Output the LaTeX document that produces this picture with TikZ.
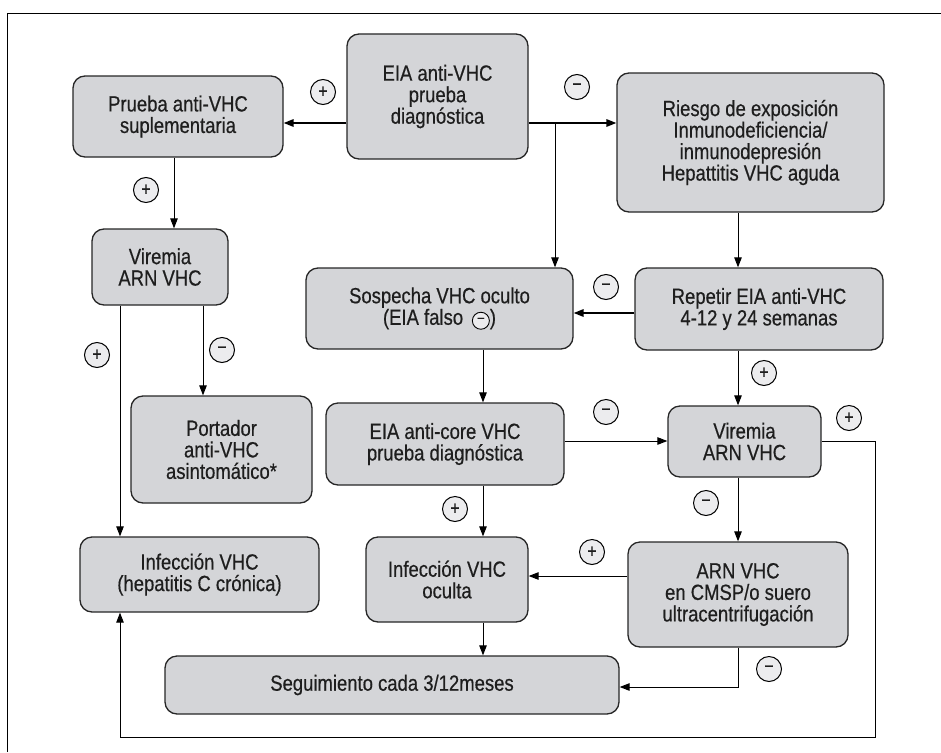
\documentclass[tikz,border=0pt]{standalone}
\usepackage{fontspec}
\setmainfont{Liberation Sans}
\newfontfamily\nf[FakeStretch=0.84,FakeBold=0.5]{Liberation Sans}
\usetikzlibrary{arrows.meta}
\definecolor{boxfill}{RGB}{212,213,216}
\definecolor{txt}{RGB}{30,30,30}
\definecolor{circfill}{RGB}{236,236,238}
\newcommand\incirc{\tikz[x=1pt,y=1pt,baseline={([yshift=-4pt]ic.center)}]\node[draw=black,line width=0.9pt,fill=circfill,circle,inner sep=0pt,minimum size=17pt,text=txt,font=\nf\fontsize{16}{16}\selectfont](ic){−};}
\begin{document}
\begin{tikzpicture}[x=1pt,y=-1pt,
  box/.style={draw=black!85,line width=1.3pt,fill=boxfill,rounded corners=12pt,align=center,text=txt,font=\nf\fontsize{22}{21.5}\selectfont,inner sep=0pt},
  arr/.style={line width=1pt,-{Triangle[length=10pt,width=7.5pt]}},
  ln/.style={line width=1pt},
  sg/.style={draw,circle,line width=1pt,fill=circfill,minimum size=25pt,inner sep=0pt,text=txt,font=\nf\fontsize{19}{19}\selectfont}]
\useasboundingbox (0,0) rectangle (941,752);
\draw[line width=1.3pt] (7.5,752) -- (7.5,13.5) -- (941,13.5);

% boxes
\node[box,minimum width=181pt,minimum height=125pt] (eia) at (437.5,96.5) {EIA anti-VHC\\prueba\\diagnóstica};
\node[box,minimum width=210pt,minimum height=81pt] (prueba) at (178,116.5) {Prueba anti-VHC\\suplementaria};
\node[box,minimum width=267pt,minimum height=139pt] (riesgo) at (750.5,142.5) {Riesgo de exposición\\Inmunodeficiencia/\\inmunodepresión\\Hepattitis VHC aguda};
\node[box,minimum width=136pt,minimum height=76pt] (vir1) at (160,267) {Viremia\\ARN VHC};
\node[box,minimum width=267pt,minimum height=81pt] (sosp) at (439.5,308.5) {Sospecha VHC oculto\\(EIA falso \,\incirc)};
\node[box,minimum width=248pt,minimum height=82pt] (repetir) at (759,309) {Repetir EIA anti-VHC\\4-12 y 24 semanas};
\node[box,minimum width=181pt,minimum height=107pt] (portador) at (221.5,449.5) {Portador\\anti-VHC\\asintomático*};
\node[box,minimum width=238pt,minimum height=82pt] (core) at (445,444) {EIA anti-core VHC\\prueba diagnóstica};
\node[box,minimum width=153pt,minimum height=71pt] (vir2) at (744.5,441.5) {Viremia\\ARN VHC};
\node[box,minimum width=239pt,minimum height=75pt] (infec) at (199.5,574.5) {Infección VHC\\(hepatitis C crónica)};
\node[box,minimum width=162pt,minimum height=85pt] (oculta) at (447,579.5) {Infección VHC\\oculta};
\node[box,minimum width=220pt,minimum height=105pt] (arn) at (738,594.5) {ARN VHC\\en CMSP/o suero\\ultracentrifugación};
\node[box,minimum width=454pt,minimum height=58pt] (seg) at (392,685) {Seguimiento cada 3/12meses};

% helper coordinates
\coordinate (y123) at (0,123);
\coordinate (y313) at (0,313);
\coordinate (y441) at (0,441);
\coordinate (y576) at (0,576);
\coordinate (y687) at (0,687);
\coordinate (x174) at (174,0);
\coordinate (x120) at (120,0);
\coordinate (x203) at (203,0);
\coordinate (x483) at (483,0);
\coordinate (x738) at (738,0);
\coordinate (br) at (555,123);
\coordinate (c1) at (875,441);
\coordinate (c2) at (875,737);
\coordinate (c3) at (120,737);

% connectors
\draw[arr,line width=1.6pt] (eia.west |- y123) -- (prueba.east |- y123);
\draw[arr,line width=1.6pt] (eia.east |- y123) -- (riesgo.west |- y123);
\draw[arr] (br) -- (br |- sosp.north);
\draw[arr] (riesgo.south -| x738) -- (repetir.north -| x738);
\draw[arr] (prueba.south -| x174) -- (vir1.north -| x174);
\draw[arr] (vir1.south -| x120) -- (infec.north -| x120);
\draw[arr] (vir1.south -| x203) -- (portador.north -| x203);
\draw[arr,line width=1.6pt] (repetir.west |- y313) -- (sosp.east |- y313);
\draw[arr] (sosp.south -| x483) -- (core.north -| x483);
\draw[arr] (core.east |- y441) -- (vir2.west |- y441);
\draw[arr] (repetir.south -| x738) -- (vir2.north -| x738);
\draw[arr] (vir2.east |- y441) -- (c1) -- (c2) -- (c3) -- (infec.south -| x120);
\draw[arr] (core.south -| x483) -- (oculta.north -| x483);
\draw[arr] (vir2.south -| x738) -- (arn.north -| x738);
\draw[arr] (arn.west |- y576) -- (oculta.east |- y576);
\draw[arr] (oculta.south -| x483) -- (seg.north -| x483);
\draw[arr] (arn.south -| x738) |- (seg.east |- y687);

% sign labels
\node[sg] (s1) at (323,92) {+};
\node[sg] (s2) at (577,87) {−};
\node[sg] (s3) at (146,190) {+};
\node[sg] (s4) at (97,355) {+};
\node[sg] (s5) at (222,350) {−};
\node[sg] (s6) at (606,287) {−};
\node[sg] (s7) at (606,412) {−};
\node[sg] (s8) at (764,373) {+};
\node[sg] (s9) at (849,418) {+};
\node[sg] (s10) at (455,509) {+};
\node[sg] (s11) at (706,503) {−};
\node[sg] (s12) at (592,552) {+};
\node[sg] (s13) at (769,669) {−};
\end{tikzpicture}
\end{document}
